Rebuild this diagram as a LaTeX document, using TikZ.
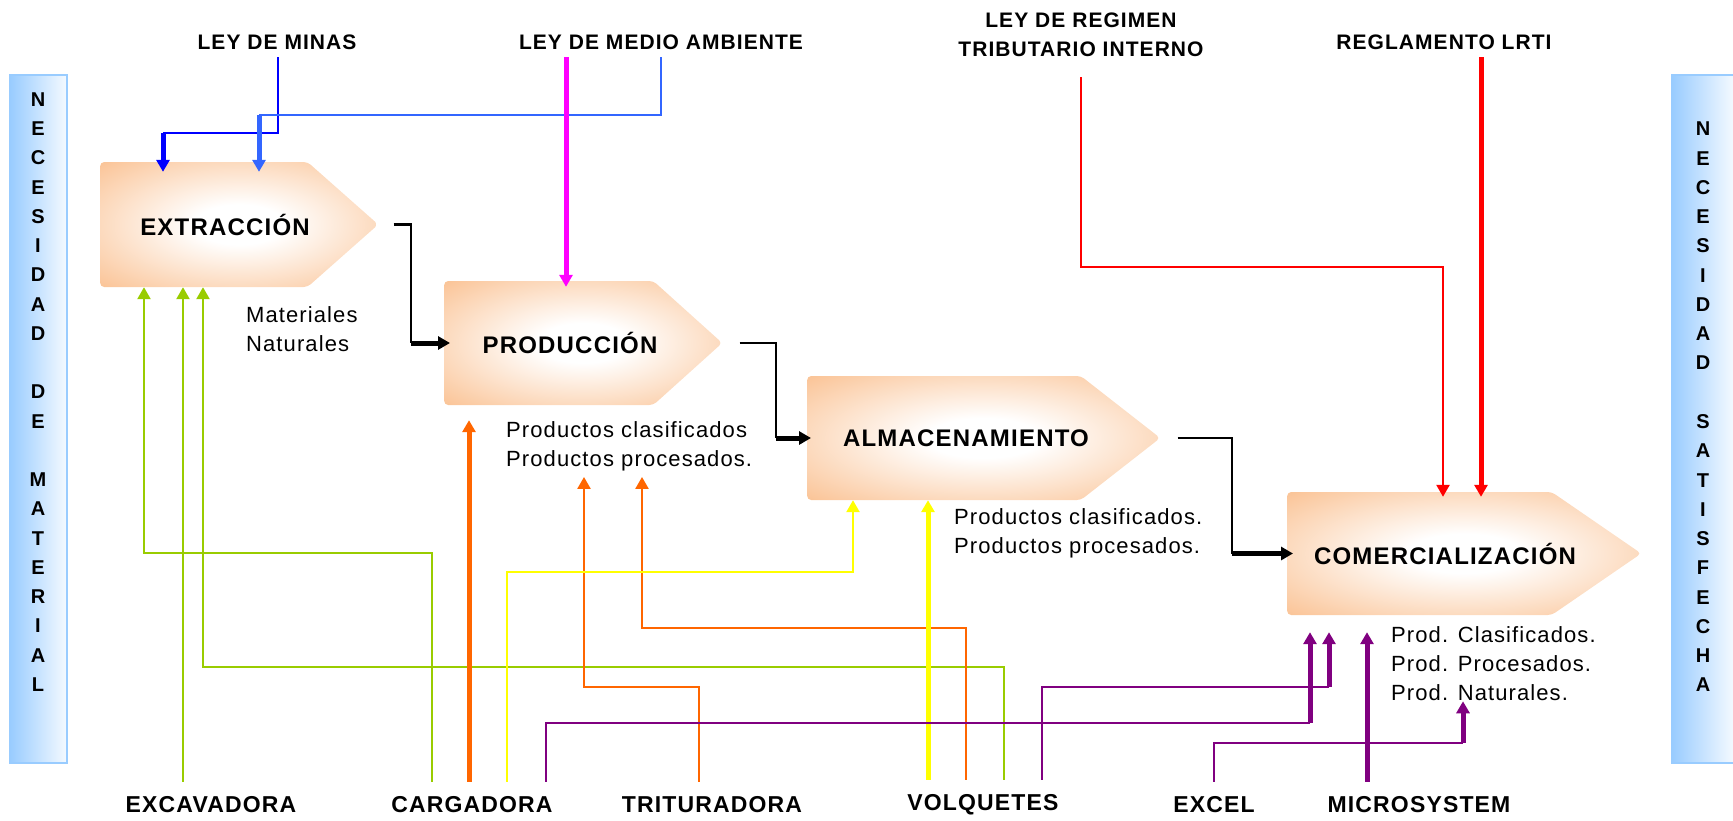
\documentclass[tikz,border=0pt]{standalone}
\usepackage{fontspec}
\setmainfont{Liberation Sans}
\newfontfamily\spacedfont[LetterSpace=5]{Liberation Sans}
\usetikzlibrary{arrows.meta,shapes.symbols}
\definecolor{peach}{HTML}{FAC090}
\definecolor{barblue}{HTML}{99CCFF}
\definecolor{leafgreen}{HTML}{99CC00}
\definecolor{rust}{HTML}{FF6600}
\definecolor{plum}{HTML}{800080}
\definecolor{ambblue}{HTML}{3366FF}
\definecolor{pink}{HTML}{FF00FF}
\definecolor{lemon}{HTML}{FFFF00}
\definecolor{lawred}{HTML}{FF0000}
\definecolor{lawblue}{HTML}{0000FF}
\pgfdeclareradialshading{glow}{\pgfpoint{0bp}{0bp}}{color(0bp)=(white); color(8bp)=(white); color(37bp)=(peach); color(50bp)=(peach)}

\begin{document}
\begin{tikzpicture}[x=1pt, y=-1pt,
    law/.style={font=\spacedfont\bfseries\fontsize{21}{29}\selectfont, inner sep=0pt, align=center},
    tool/.style={font=\spacedfont\bfseries\fontsize{23}{29}\selectfont, inner sep=0pt},
    note/.style={font=\spacedfont\fontsize{22}{29}\selectfont, inner sep=0pt, align=left, anchor=west},
    procbox/.style={signal, signal to=east, shading=glow, rounded corners=4pt, inner sep=0pt, anchor=west},
    boxlabel/.style={font=\spacedfont\bfseries\fontsize{24}{29}\selectfont, inner sep=0pt},
    needbar/.style={draw=barblue, line width=2pt, left color=barblue, right color=barblue!10, minimum width=57pt, minimum height=688pt},
    bartext/.style={font=\bfseries\fontsize{20}{29.25}\selectfont, align=center, inner sep=0pt},
    thinline/.style={line width=2.5pt},
    thickline/.style={line width=5pt},
    arrowend/.style={-{Triangle[length=12pt,width=13pt]}}]
    \useasboundingbox (0,0) rectangle (1733,820);
    % side bars
    \node[needbar] (leftbar) at (38.5,419) {};
    \node[needbar, minimum width=62pt] (rightbar) at (1703,419) {};
    \node[bartext] (needmat) at (38,392) {N\\E\\C\\E\\S\\I\\D\\A\\D\\[29.25pt]D\\E\\[29.25pt]M\\A\\T\\E\\R\\I\\A\\L};
    \node[bartext] (needsat) at (1703,407) {N\\E\\C\\E\\S\\I\\D\\A\\D\\[29.3pt]S\\A\\T\\I\\S\\F\\E\\C\\H\\A};
    % process boxes
    \node[procbox, signal pointer angle=83, minimum width=278pt, minimum height=125pt] (ext) at (100,224.5) {};
    \node[procbox, signal pointer angle=84, minimum width=278pt, minimum height=124pt] (prod) at (444,343) {};
    \node[procbox, signal pointer angle=76, minimum width=353pt, minimum height=124pt] (alm) at (807,438) {};
    \node[procbox, signal pointer angle=69, minimum width=354pt, minimum height=123pt] (com) at (1287,553.5) {};
    \node[boxlabel] (extlbl) at ([xshift=125pt]ext.west) {EXTRACCIÓN};
    \node[boxlabel] (prodlbl) at ([xshift=126pt]prod.west) {PRODUCCIÓN};
    \node[boxlabel] (almlbl) at ([xshift=159pt]alm.west) {ALMACENAMIENTO};
    \node[boxlabel] (comlbl) at ([xshift=158pt]com.west) {COMERCIALIZACIÓN};
    % laws on top
    \node[law] (minas) at (277,42) {LEY DE MINAS};
    \node[law] (ambiente) at (661,42) {LEY DE MEDIO AMBIENTE};
    \node[law] (regimen) at (1081,34.5) {LEY DE REGIMEN\\TRIBUTARIO INTERNO};
    \node[law] (lrti) at (1444,42) {REGLAMENTO LRTI};
    % tools at the bottom
    \node[tool] (excav) at (211,805) {EXCAVADORA};
    \node[tool] (carg) at (472,805) {CARGADORA};
    \node[tool] (trit) at (712,805) {TRITURADORA};
    \node[tool] (volq) at (983,805) {VOLQUETES};
    \node[tool] (excel) at (1214,805) {EXCEL};
    \node[tool] (micro) at (1419,805) {MICROSYSTEM};
    % products
    \node[note] (matnote) at (246,329) {Materiales\\Naturales};
    \node[note] (prodnote) at (506,446) {Productos clasificados\\Productos procesados.};
    \node[note] (almnote) at (954,533) {Productos clasificados.\\Productos procesados.};
    \node[note] (comnote) at (1391,664) {Prod. Clasificados.\\Prod. Procesados.\\Prod. Naturales.};

    \draw[lawblue, thinline] ([xshift=1pt,yshift=-7.5pt]minas.south) |- (163,133);
    \draw[lawblue, thickline, arrowend, shorten >=-10pt] (163,133) -- (163,0 |- ext.north);
    \draw[ambblue, thinline] ([yshift=-7.5pt]ambiente.south) |- (259,115);
    \draw[ambblue, thickline, arrowend, shorten >=-10pt] (259,115) -- (259,0 |- ext.north);
    \draw[pink, thickline, arrowend, shorten >=-6pt] ([xshift=-95pt,yshift=-7.5pt]ambiente.south) -- (566,0 |- prod.north);
    \draw[lawred, thinline, arrowend, shorten >=-5pt] ([yshift=-20.5pt]regimen.south) |- (1443,267) -- (1443,0 |- com.north);
    \draw[lawred, thickline, arrowend, shorten >=-5pt] ([xshift=37pt,yshift=-7.5pt]lrti.south) -- (1481,0 |- com.north);

    \draw[thinline] ([xshift=15pt]ext.east) -| (411,0 |- prod.west);
    \draw[thickline, arrowend, shorten >=-6pt] (411,0 |- prod.west) -- (prod.west);
    \draw[thinline] ([xshift=17pt]prod.east) -| (776,0 |- alm.west);
    \draw[thickline, arrowend, shorten >=-4pt] (776,0 |- alm.west) -- (alm.west);
    \draw[thinline] ([xshift=17pt]alm.east) -| (1232,0 |- com.west);
    \draw[thickline, arrowend, shorten >=-6pt] (1232,0 |- com.west) -- (com.west);

    \draw[leafgreen, thinline, arrowend] ([xshift=-40pt,yshift=15pt]carg.north) |- (144,553) -- (144,0 |- ext.south);
    \draw[leafgreen, thinline, arrowend] ([xshift=-28pt,yshift=15pt]excav.north) -- (183,0 |- ext.south);
    \draw[leafgreen, thinline, arrowend] ([xshift=21pt,yshift=15pt]volq.north) |- (203,667) -- (203,0 |- ext.south);
    \draw[rust, thickline, arrowend, shorten >=15pt] ([xshift=-3pt,yshift=15pt]carg.north) -- (469,0 |- prod.south);
    \draw[rust, thinline, arrowend, shorten >=6pt] ([xshift=-13pt,yshift=15pt]trit.north) |- (584,687) -- (584,0 |- prodnote.south);
    \draw[rust, thinline, arrowend, shorten >=6pt] ([xshift=-17pt,yshift=15pt]volq.north) |- (642,628) -- (642,0 |- prodnote.south);
    \draw[lemon, thinline, arrowend] ([xshift=35pt,yshift=15pt]carg.north) |- (853,572) -- (853,0 |- alm.south);
    \draw[lemon, thickline, arrowend] ([xshift=-55pt,yshift=15pt]volq.north) -- (928,0 |- alm.south);
    \draw[plum, thinline] ([xshift=74pt,yshift=15pt]carg.north) |- (1310,723);
    \draw[plum, thickline, arrowend, shorten >=17pt] (1310,723) -- (1310,0 |- com.south);
    \draw[plum, thinline] ([xshift=59pt,yshift=15pt]volq.north) |- (1329,687);
    \draw[plum, thickline, arrowend, shorten >=17pt] (1329,687) -- (1329,0 |- com.south);
    \draw[plum, thickline, arrowend, shorten >=17pt] ([xshift=-52pt,yshift=15pt]micro.north) -- (1367,0 |- com.south);
    \draw[plum, thinline] ([yshift=15pt]excel.north) |- (1463,743);
    \draw[plum, thickline, arrowend] (1463,743) -- (1463,0 |- comnote.south);
\end{tikzpicture}
\end{document}
